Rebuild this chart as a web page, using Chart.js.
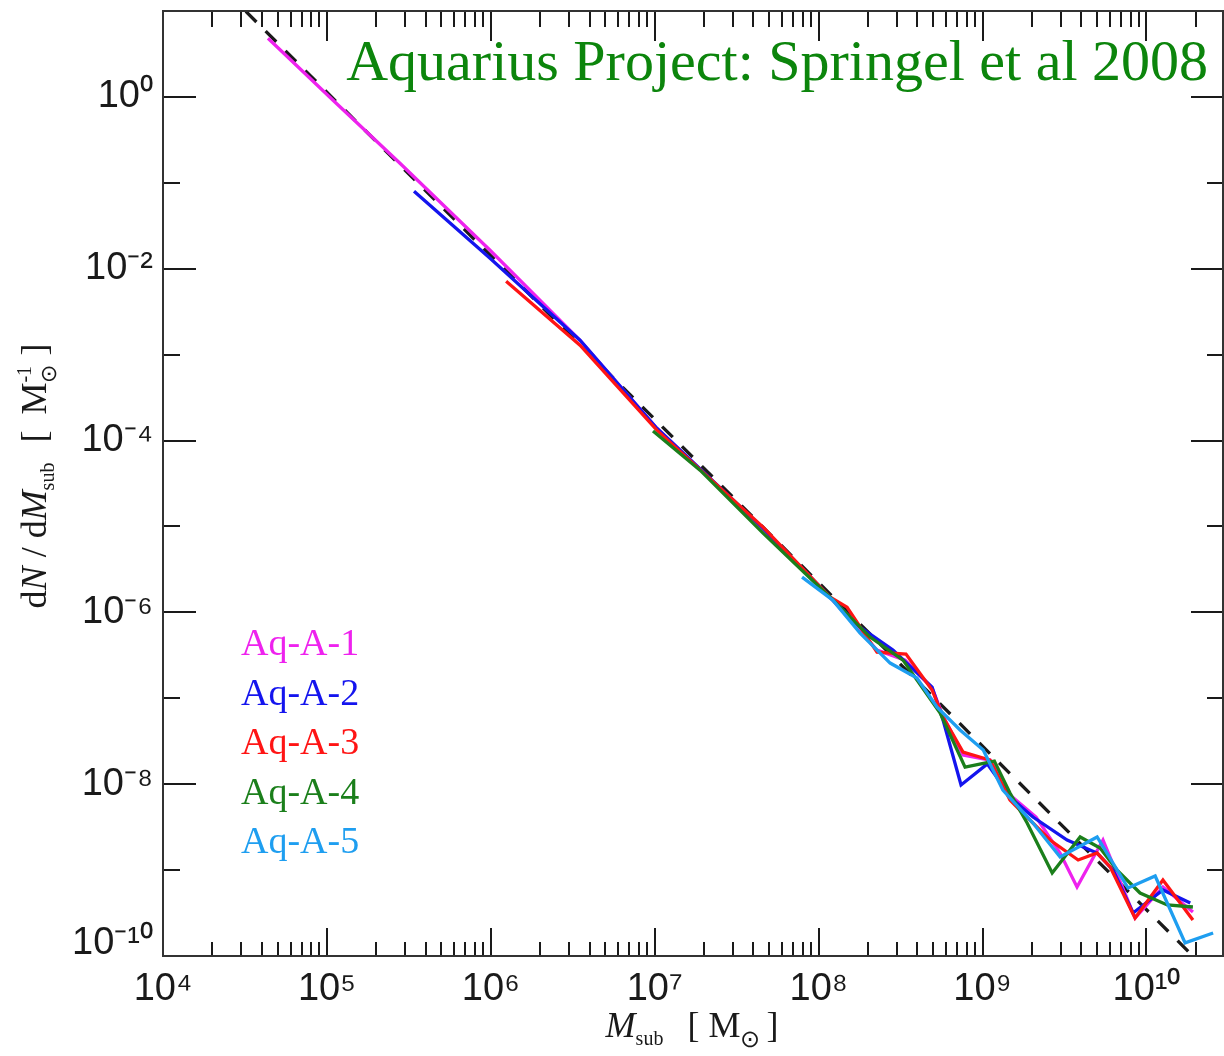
<!DOCTYPE html>
<html><head><meta charset="utf-8">
<script src="https://cdn.jsdelivr.net/npm/chart.js@4"></script>
<style>html,body{margin:0;padding:0;background:#fff;}#wrap{width:1224px;height:1056px;}</style>
</head><body><div id="wrap"><canvas id="c" width="1224" height="1056"></canvas></div>
<script>
// ---------- data ----------
const seriesLabels = ['Aq-A-1', 'Aq-A-2', 'Aq-A-3', 'Aq-A-4', 'Aq-A-5'];

const aqA1Mass = [4.37e4, 1.09e5, 2.79e5, 9.89e5, 3.50e6, 1.03e7, 4.58e7, 1.17e8, 2.27e8, 3.37e8, 4.92e8, 5.74e8, 7.60e8, 1.11e9, 1.47e9, 2.12e9, 2.97e9, 3.77e9, 5.43e9, 8.52e9, 1.26e10, 1.92e10];
const aqA1Dens = [4.81, 0.914, 0.169, 0.0164, 1.47e-3, 1.39e-4, 9.31e-6, 1.51e-6, 3.64e-7, 2.78e-7, 1.32e-7, 6.21e-8, 2.18e-8, 1.91e-8, 7.48e-9, 4.15e-9, 1.58e-9, 6.36e-10, 2.24e-9, 2.77e-10, 6.36e-10, 3.25e-10];

const aqA2Mass = [3.40e5, 9.89e5, 3.50e6, 1.03e7, 4.58e7, 1.17e8, 1.79e8, 2.84e8, 4.92e8, 5.74e8, 7.39e8, 1.07e9, 1.54e9, 2.03e9, 3.28e9, 5.00e9, 6.26e9, 8.28e9, 1.26e10, 1.85e10];
const aqA2Dens = [0.0798, 0.01326, 1.47e-3, 1.39e-4, 9.56e-6, 1.51e-6, 6.74e-7, 3.64e-7, 1.35e-7, 5.58e-8, 9.78e-9, 1.72e-8, 6.54e-9, 4.15e-9, 2.24e-9, 1.58e-9, 1.00e-9, 3.17e-10, 5.87e-10, 4.14e-10];

const aqA3Mass = [1.24e6, 3.50e6, 1.03e7, 4.58e7, 1.17e8, 1.49e8, 2.27e8, 3.41e8, 4.92e8, 5.74e8, 7.60e8, 1.11e9, 1.47e9, 1.69e9, 2.58e9, 3.83e9, 5.00e9, 6.00e9, 8.52e9, 1.26e10, 1.92e10];
const aqA3Dens = [7.16e-3, 1.29e-3, 1.32e-4, 9.82e-6, 1.51e-6, 1.15e-6, 3.45e-7, 3.27e-7, 1.25e-7, 6.05e-8, 2.37e-8, 1.91e-8, 6.54e-9, 5.00e-9, 2.24e-9, 1.31e-9, 1.58e-9, 1.09e-9, 2.77e-10, 7.67e-10, 2.63e-10];

const aqA4Mass = [9.76e6, 1.89e7, 4.58e7, 1.17e8, 2.06e8, 3.27e8, 5.51e8, 7.82e8, 1.18e9, 1.47e9, 1.87e9, 2.66e9, 3.94e9, 5.21e9, 6.62e9, 9.14e9, 1.34e10, 1.92e10];
const aqA4Dens = [1.29e-4, 4.52e-5, 8.37e-6, 1.51e-6, 5.16e-7, 2.78e-7, 6.73e-8, 1.58e-8, 1.86e-8, 7.89e-9, 3.53e-9, 9.25e-10, 2.43e-9, 1.81e-9, 1.00e-9, 5.41e-10, 3.93e-10, 3.72e-10];

const aqA5Mass = [7.92e7, 1.22e8, 1.79e8, 2.73e8, 3.98e8, 5.28e8, 7.29e8, 1.01e9, 1.33e9, 2.03e9, 2.97e9, 5.00e9, 7.72e9, 1.13e10, 1.72e10, 2.55e10];
const aqA5Dens = [2.57e-6, 1.39e-6, 5.74e-7, 2.57e-7, 1.72e-7, 7.90e-8, 4.27e-8, 2.50e-8, 8.55e-9, 3.53e-9, 1.42e-9, 2.43e-9, 6.19e-10, 8.54e-10, 1.42e-10, 1.85e-10];

// power-law fit (dashed): its two end points
const fitMass = [3.2e4, 1.92e10];
const fitDens = [9.9, 1.0e-10];

const xTickValues = [1e4, 1e5, 1e6, 1e7, 1e8, 1e9, 1e10];
const yTickValues = [1e-10, 1e-8, 1e-6, 1e-4, 1e-2, 1e0];

const titleText = 'Aquarius Project: Springel et al 2008';

// ---------- styling ----------
const seriesMass = [aqA1Mass, aqA2Mass, aqA3Mass, aqA4Mass, aqA5Mass];
const seriesDens = [aqA1Dens, aqA2Dens, aqA3Dens, aqA4Dens, aqA5Dens];
const seriesColors = ['#ee22ee', '#1414ee', '#ff1414', '#1b7f1b', '#1e9ef0'];
const SANS = '"Liberation Sans", Arial, sans-serif';
const SERIF = '"Liberation Serif", "Times New Roman", serif';

const SUP = {'0':'⁰','1':'¹','2':'²','3':'³','4':'⁴','5':'⁵','6':'⁶','7':'⁷','8':'⁸','9':'⁹','-':'⁻'};
function tickLabel(v) {
  const e = String(Math.round(Math.log10(v)));
  return '10' + e.split('').map(c => SUP[c]).join('');
}

const datasets = seriesLabels.map((lab, i) => ({
  label: lab,
  data: seriesMass[i].map((m, j) => ({x: m, y: seriesDens[i][j]})),
  borderColor: seriesColors[i],
  borderWidth: 3.3,
  pointRadius: 0,
  showLine: true,
  tension: 0,
  fill: false,
  order: 5 - i
}));
datasets.push({
  label: 'fit',
  data: fitMass.map((m, j) => ({x: m, y: fitDens[j]})),
  borderColor: '#1a1a1a',
  borderDash: [15, 13],
  borderWidth: 3.3,
  pointRadius: 0,
  showLine: true,
  order: 10
});

function segWidth(ctx, s) { ctx.font = s.f; return ctx.measureText(s.t).width; }
function drawRich(ctx, segs, cx, baseY, color) {
  let total = 0;
  const widths = segs.map(s => {
    let w;
    if (s.stack) w = Math.max(...s.stack.map(q => segWidth(ctx, q)));
    else if (s.gap) w = s.gap;
    else w = segWidth(ctx, s);
    total += w; return w;
  });
  let x = cx - total / 2;
  ctx.fillStyle = color; ctx.textAlign = 'left'; ctx.textBaseline = 'alphabetic';
  segs.forEach((s, i) => {
    const list = s.stack ? s.stack : (s.gap ? [] : [s]);
    list.forEach(q => { ctx.font = q.f; ctx.fillText(q.t, x, baseY + (q.dy || 0)); });
    x += widths[i];
  });
}

const decorPlugin = {
  id: 'decor',
  afterDatasetsDraw(chart) {
    const {ctx, chartArea: a, scales: {x, y}} = chart;
    ctx.save();
    ctx.strokeStyle = '#1a1a1a'; ctx.lineWidth = 2;
    const line = (x1, y1, x2, y2) => { ctx.beginPath(); ctx.moveTo(x1, y1); ctx.lineTo(x2, y2); ctx.stroke(); };
    for (let d = 4; d <= 10; d++) {
      for (let k = 1; k <= 9; k++) {
        const v = k * Math.pow(10, d);
        if (v < x.min || v > x.max) continue;
        const px = Math.round(x.getPixelForValue(v));
        const major = k === 1;
        line(px, a.bottom, px, a.bottom - (major ? 28 : 14));
        line(px, a.top, px, a.top + (major ? 30 : 16));
      }
    }
    for (let d = -10; d <= 1; d++) {
      const py = Math.round(y.getPixelForValue(Math.pow(10, d)));
      const major = d % 2 === 0;
      line(a.left, py, a.left + (major ? 33 : 17), py);
      line(a.right, py, a.right - (major ? 32 : 16), py);
    }
    ctx.strokeStyle = '#333'; ctx.lineWidth = 2;
    ctx.strokeRect(a.left, a.top, a.right - a.left, a.bottom - a.top);
    ctx.restore();
  },
  afterDraw(chart) {
    const ctx = chart.ctx;
    ctx.save();
    // title
    ctx.font = `58px ${SERIF}`; ctx.fillStyle = '#0c850c';
    ctx.textAlign = 'right'; ctx.textBaseline = 'alphabetic';
    ctx.fillText(titleText, 1208, 80);
    // legend labels
    ctx.font = `38px ${SERIF}`; ctx.textAlign = 'left';
    seriesLabels.forEach((lab, i) => { ctx.fillStyle = seriesColors[i]; ctx.fillText(lab, 241, 655 + i * 49.5); });
    // x axis title
    drawRich(ctx, [
      {t: 'M', f: `italic 36px ${SERIF}`},
      {t: 'sub', f: `20px ${SERIF}`, dy: 8},
      {gap: 24},
      {t: '[', f: `36px ${SERIF}`},
      {gap: 9},
      {t: 'M', f: `36px ${SERIF}`},
      {t: '⊙', f: `24px ${SERIF}`, dy: 10},
      {gap: 6},
      {t: ']', f: `36px ${SERIF}`}
    ], 692, 1037, '#1a1a1a');
    // y axis title
    ctx.translate(46, 476);
    ctx.rotate(-Math.PI / 2);
    drawRich(ctx, [
      {t: 'd', f: `36px ${SERIF}`},
      {t: 'N', f: `italic 36px ${SERIF}`},
      {t: ' / d', f: `36px ${SERIF}`},
      {t: 'M', f: `italic 36px ${SERIF}`},
      {t: 'sub', f: `20px ${SERIF}`, dy: 8},
      {gap: 20},
      {t: '[', f: `36px ${SERIF}`},
      {gap: 16},
      {t: 'M', f: `36px ${SERIF}`},
      {stack: [{t: '⊙', f: `22px ${SERIF}`, dy: 10}, {t: '-1', f: `20px ${SERIF}`, dy: -15}]},
      {gap: 9},
      {t: ']', f: `36px ${SERIF}`}
    ], 0, 0, '#1a1a1a');
    ctx.restore();
  }
};

new Chart(document.getElementById('c'), {
  type: 'scatter',
  data: {datasets},
  options: {
    responsive: false,
    animation: false,
    devicePixelRatio: 1,
    layout: {padding: {top: 11, right: 1, left: 0, bottom: 0}},
    plugins: {legend: {display: false}, tooltip: {enabled: false}},
    elements: {line: {borderJoinStyle: 'miter'}},
    scales: {
      x: {
        type: 'logarithmic', position: 'bottom', min: 1e4, max: 2.93e10,
        grid: {display: false, drawTicks: false}, border: {display: false},
        ticks: {autoSkip: false, maxRotation: 0, minRotation: 0, padding: 11, color: '#1a1a1a',
                font: {family: SANS, size: 38}, callback: v => tickLabel(v)},
        afterBuildTicks: s => { s.ticks = xTickValues.map(v => ({value: v})); },
        afterFit: s => { s.height = 100; s.paddingLeft = 0; s.paddingRight = 0; }
      },
      y: {
        type: 'logarithmic', position: 'left', min: 1e-10, max: 10,
        grid: {display: false, drawTicks: false}, border: {display: false},
        ticks: {autoSkip: false, padding: 10, color: '#1a1a1a',
                font: {family: SANS, size: 38, lineHeight: '25px'},
                callback: v => { const l = tickLabel(v); return Math.round(Math.log10(v)) === -10 ? [l, ''] : l; }},
        afterBuildTicks: s => { s.ticks = yTickValues.map(v => ({value: v})); },
        afterFit: s => { s.width = 163; s.paddingTop = 0; s.paddingBottom = 0; }
      }
    }
  },
  plugins: [decorPlugin]
});
</script></body></html>
